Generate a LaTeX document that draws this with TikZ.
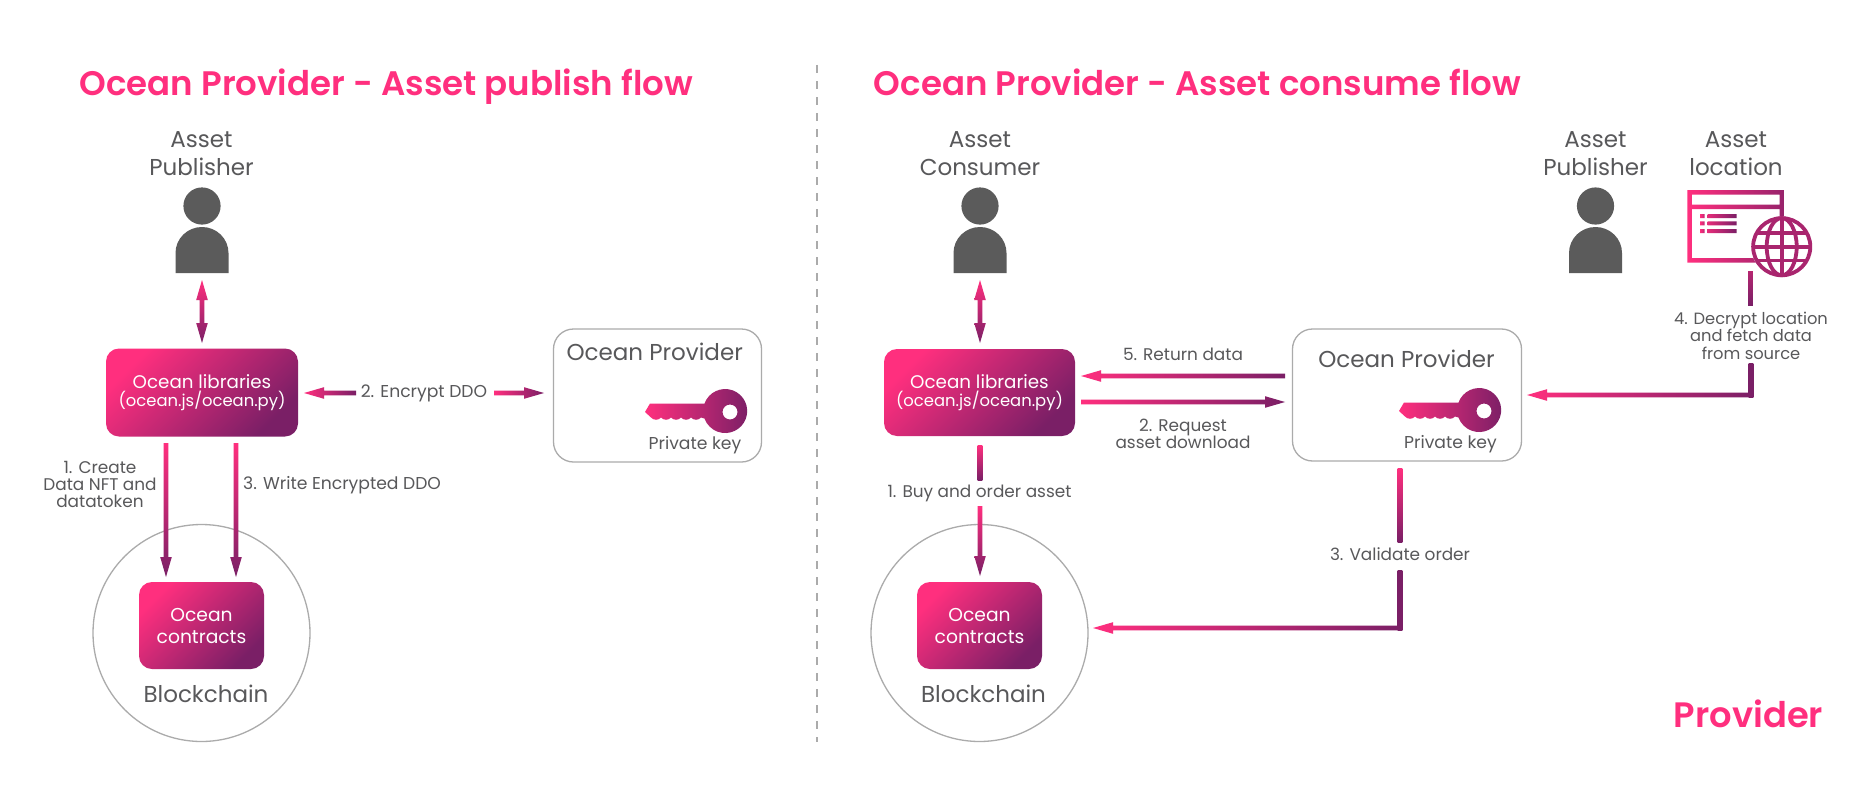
\documentclass[tikz,border=0pt]{standalone}
\usepackage{fontspec}
\usetikzlibrary{calc,shapes.geometric}
\setmainfont{Poppins}
\newfontfamily\titlefont{Poppins SemiBold}
\definecolor{pk}{HTML}{FF2F7E}
\definecolor{pu}{HTML}{7A1F66}
\definecolor{txt}{HTML}{58585A}
\definecolor{ppl}{HTML}{5B5B5B}
\definecolor{edge}{HTML}{ABABAB}
\newcommand\libtext{\rule{0pt}{15pt}{\fontsize{18.3}{18}\selectfont Ocean libraries}\\{\fontsize{16.4}{18}\selectfont (ocean.js/ocean.py)}}
\tikzset{
  gv/.style={top color=pk,bottom color=pu},
  gvr/.style={top color=pk!45!pu,bottom color=pu},
  gvd/.style={top color=pu,bottom color=pu},
  gh/.style={left color=pk,right color=pu},
  gradbox/.style={rounded corners=13pt,top color=pk,bottom color=pu,shading angle=45,text=white,align=center,inner sep=0pt,font=\fontsize{17}{18}\selectfont},
  contractbox/.style={gradbox,font=\fontsize{18.7}{22}\selectfont},
  provbox/.style={draw=edge,line width=1.3pt,rounded corners=20pt,fill=white},
  chain/.style={circle,draw=edge,line width=1.3pt,minimum size=217pt,inner sep=0pt},
  bigtitle/.style={anchor=base,text=pk,inner sep=0pt,font=\titlefont\fontsize{34}{38}\selectfont},
  head/.style={anchor=base,text=txt,inner sep=0pt,align=center,font=\fontsize{23}{28}\selectfont},
  small/.style={anchor=base,text=txt,inner sep=0pt,align=center,font=\fontsize{16.9}{17}\selectfont},
  smallb/.style={small,font=\fontsize{17.2}{17}\selectfont},
}
\newcommand\gseg[3]{\shade[#3] ($(#1)!2.3pt!90:(#2)$) -- ($(#2)!2.3pt!-90:(#1)$) -- ($(#2)!2.3pt!90:(#1)$) -- ($(#1)!2.3pt!-90:(#2)$) -- cycle;}
\newcommand\garrow[3]{\coordinate (hb) at ($(#2)!20pt!(#1)$);
  \shade[#3] ($(#1)!2.3pt!90:(#2)$) -- ($(hb)!2.3pt!90:(#2)$) -- ($(hb)!5.8pt!90:(#2)$) -- (#2) -- ($(hb)!5.8pt!-90:(#2)$) -- ($(hb)!2.3pt!-90:(#2)$) -- ($(#1)!2.3pt!-90:(#2)$) -- cycle;}
\newcommand\gdarrow[3]{\coordinate (hb) at ($(#2)!20pt!(#1)$);\coordinate (ha) at ($(#1)!20pt!(#2)$);
  \shade[#3] (#1) -- ($(ha)!5.8pt!90:(#2)$) -- ($(ha)!2.3pt!90:(#2)$) -- ($(hb)!2.3pt!90:(#2)$) -- ($(hb)!5.8pt!90:(#2)$) -- (#2) -- ($(hb)!5.8pt!-90:(#2)$) -- ($(hb)!2.3pt!-90:(#2)$) -- ($(ha)!2.3pt!-90:(#2)$) -- ($(ha)!5.8pt!-90:(#2)$) -- cycle;}
\newcommand\personicon[2]{\fill[ppl] (#1,#2) circle[radius=18.6pt];
  \fill[ppl] (#1-26.5,#2+67) -- (#1-26.5,#2+47) arc[start angle=180,end angle=0,x radius=26.5pt,y radius=26pt] -- (#1+26.5,#2+67) -- cycle;}
\newcommand\keyicon[2]{\shade[left color=pk,right color=pu,even odd rule] (#1-80,#2+1) -- (#1-75,#2-7.5) -- (#1-20.5,#2-7.5) arc[start angle=160,end angle=-160,radius=22pt] -- (#1-24,#2+6.5)
  foreach \k in {1,...,5}{ .. controls +(-2.5,3) and +(2.5,3) .. ++(-10,0) } -- cycle
  (#1+5,#2+1) circle[radius=7.5pt];}
\begin{document}
\begin{tikzpicture}[x=1pt,y=-1pt]
\useasboundingbox (0,0) rectangle (1870,808);
\fill[white] (0,0) rectangle (1870,808);
% divider
\coordinate (divt) at (817,65); \coordinate (divb) at (817,742);
\draw[edge,line width=2pt,dash pattern=on 8pt off 8pt] (divt) -- (divb);
% titles
\node[bigtitle] (t1) at (386.4,95) {Ocean Provider - Asset publish flow};
\node[bigtitle] (t2) at (1197.4,95) {Ocean Provider - Asset consume flow};
\node[bigtitle,font=\titlefont\fontsize{35.3}{38}\selectfont] (t3) at (1748.5,727) {Provider};
% circles
\node[chain] (bc1) at (201.5,633) {};
\node[chain] (bc2) at (979.5,633) {};
% left flow
\node[head] (ap1) at (201.5,175) {Asset\\Publisher};
\personicon{202}{206}
\coordinate (p1) at (202,280);
\node[gradbox,minimum width=192pt,minimum height=88pt] (lib1) at (202,392.5) {\libtext};
\coordinate (l1t) at (202,343);
\gdarrow{p1}{l1t}{gv}
\node[contractbox,minimum width=125pt,minimum height=87pt] (oc1) at (201.5,625.5) {Ocean\\contracts};
\node[head] (blk1) at (206,702) {Blockchain};
\node[provbox,minimum width=208pt,minimum height=133pt] (pr1) at (657.5,395.5) {};
\node[head] (prt1) at (654.7,360) {Ocean Provider};
\keyicon{725}{411}
\node[smallb] (pk1) at (695,449) {Private key};
\coordinate (e1a) at (356,393); \coordinate (e1b) at (304,393);
\garrow{e1a}{e1b}{gh}
\coordinate (e2a) at (494,393); \coordinate (e2b) at (544,393);
\garrow{e2a}{e2b}{gh}
\node[smallb] (lenc) at (424,397) {2. Encrypt DDO};
\coordinate (c1a) at (166,443); \coordinate (c1b) at (166,577);
\garrow{c1a}{c1b}{gv}
\coordinate (c2a) at (236,443); \coordinate (c2b) at (236,577);
\garrow{c2a}{c2b}{gv}
\node[small] (l1) at (100,507) {1. Create\\Data NFT and\\datatoken};
\node[smallb,anchor=base west] (l3) at (243,489) {3. Write Encrypted DDO};
% right flow
\node[head] (ac) at (980,175) {Asset\\Consumer};
\personicon{980}{206}
\coordinate (p2) at (980,280);
\node[gradbox,minimum width=191pt,minimum height=87pt] (lib2) at (979.5,392.5) {\libtext};
\coordinate (l2t) at (980,343);
\gdarrow{p2}{l2t}{gv}
\node[contractbox,minimum width=125pt,minimum height=87pt] (oc2) at (979.5,625.5) {Ocean\\contracts};
\node[head] (blk2) at (983.5,702) {Blockchain};
\coordinate (b1a) at (980,445); \coordinate (b1b) at (980,480);
\gseg{b1a}{b1b}{gv}
\coordinate (b2a) at (980,506); \coordinate (b2b) at (980,576);
\garrow{b2a}{b2b}{gv}
\node[small] (lbuy) at (979.5,497) {1. Buy and order asset};
\node[provbox,minimum width=229pt,minimum height=132pt] (pr2) at (1407,395) {};
\node[head] (prt2) at (1406.5,367) {Ocean Provider};
\keyicon{1479}{410}
\node[smallb] (pk2) at (1450.5,448) {Private key};
\coordinate (r5a) at (1285,376); \coordinate (r5b) at (1081,376);
\garrow{r5a}{r5b}{gh}
\node[small] (l5) at (1183,360) {5. Return data};
\coordinate (r2a) at (1081,402); \coordinate (r2b) at (1285,402);
\garrow{r2a}{r2b}{gh}
\node[small] (l2) at (1183,448) {2. Request\\asset download};
% validate
\coordinate (v1a) at (1400,468); \coordinate (v1b) at (1400,542);
\gseg{v1a}{v1b}{gv}
\node[small] (l3v) at (1400,560) {3. Validate order};
\coordinate (v2a) at (1400,570); \coordinate (v2c) at (1400,630.3);
\gseg{v2a}{v2c}{gvd}
\coordinate (v3a) at (1402.3,628); \coordinate (v3b) at (1093,628);
\garrow{v3a}{v3b}{gh}
% asset publisher 2
\node[head] (ap2) at (1595.5,175) {Asset\\Publisher};
\personicon{1595.5}{206}
% location
\node[head] (aloc) at (1736,175) {Asset\\location};
\shade[left color=pk,right color=pk!22!pu,even odd rule] (1687.3,190) rectangle (1784,262.7)
  (1691.8,194.5) rectangle (1779.5,204.5) (1691.8,209) rectangle (1779.5,258.2);
\shade[left color=pk,right color=pk!50!pu] (1700,214) rectangle (1704.7,218) (1700,221.3) rectangle (1704.7,225.3) (1700,229) rectangle (1704.7,233);
\shade[left color=pk!80!pu,right color=pu] (1707.7,214) rectangle (1736.7,218) (1707.7,221.3) rectangle (1736.7,225.3) (1707.7,229) rectangle (1736.7,233);
\fill[white] (1781.7,246.7) circle[radius=30.5pt];
\begin{scope}[draw=pk!35!pu,line width=3.8pt]
\draw (1781.7,246.7) circle[radius=28.6pt];
\draw (1781.7,246.7) ellipse[x radius=15pt,y radius=28.6pt];
\draw (1781.7,218) -- (1781.7,275.5);
\draw (1753,246.7) -- (1810.5,246.7);
\draw (1757,233) -- (1806.5,233);
\draw (1757,260.4) -- (1806.5,260.4);
\end{scope}
% decrypt
\coordinate (d1a) at (1750.5,271); \coordinate (d1b) at (1750.5,305);
\gseg{d1a}{d1b}{gvr}
\node[small,font=\fontsize{16.3}{17.5}\selectfont] (l4) at (1751,359) {4. Decrypt location\\and fetch data\\from source};
\coordinate (d2a) at (1751,363); \coordinate (d2c) at (1751,397.3);
\gseg{d2a}{d2c}{gvd}
\coordinate (d3a) at (1753.3,395); \coordinate (d3b) at (1527,395);
\garrow{d3a}{d3b}{gh}
\end{tikzpicture}
\end{document}
